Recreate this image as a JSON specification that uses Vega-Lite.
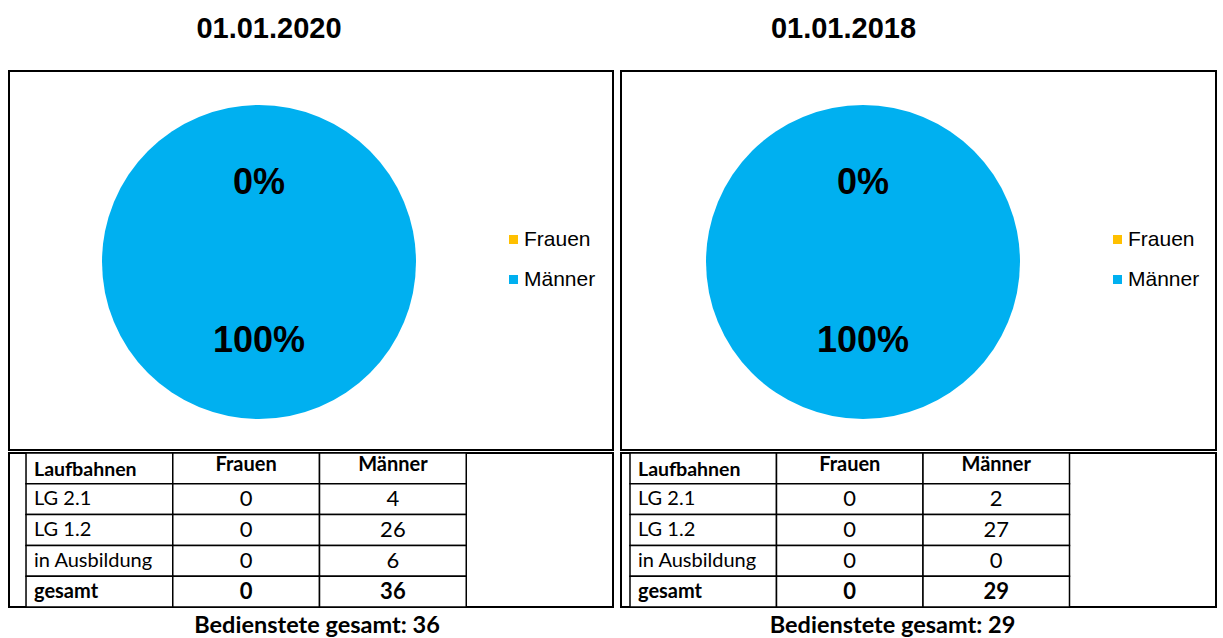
{
  "$schema": "https://vega.github.io/schema/vega-lite/v6.json",
  "background": "white",
  "padding": {"left": 8, "top": 14, "right": 0, "bottom": 0},
  "config": {
    "view": {"stroke": "black", "strokeWidth": 2},
    "text": {"color": "black", "font": "Lato"}
  },
  "datasets": {
    "pie2020": [
      {"Geschlecht": "Frauen", "Anzahl": 0, "Anteil": "0%"},
      {"Geschlecht": "Männer", "Anzahl": 36, "Anteil": "100%"}
    ],
    "pie2018": [
      {"Geschlecht": "Frauen", "Anzahl": 0, "Anteil": "0%"},
      {"Geschlecht": "Männer", "Anzahl": 29, "Anteil": "100%"}
    ],
    "tab2020": [
      {"Laufbahnen": "Laufbahnen", "Frauen": "Frauen", "Männer": "Männer"},
      {"Laufbahnen": "LG 2.1", "Frauen": 0, "Männer": 4},
      {"Laufbahnen": "LG 1.2", "Frauen": 0, "Männer": 26},
      {"Laufbahnen": "in Ausbildung", "Frauen": 0, "Männer": 6},
      {"Laufbahnen": "gesamt", "Frauen": 0, "Männer": 36}
    ],
    "tab2018": [
      {"Laufbahnen": "Laufbahnen", "Frauen": "Frauen", "Männer": "Männer"},
      {"Laufbahnen": "LG 2.1", "Frauen": 0, "Männer": 2},
      {"Laufbahnen": "LG 1.2", "Frauen": 0, "Männer": 27},
      {"Laufbahnen": "in Ausbildung", "Frauen": 0, "Männer": 0},
      {"Laufbahnen": "gesamt", "Frauen": 0, "Männer": 29}
    ]
  },
  "spacing": 6,
  "resolve": {"scale": {"color": "independent", "theta": "independent", "x": "independent", "y": "independent"}, "legend": {"color": "independent"}},
  "hconcat": [
    {
      "spacing": 0,
      "resolve": {"scale": {"color": "independent", "theta": "independent", "x": "independent", "y": "independent"}, "legend": {"color": "independent"}},
      "vconcat": [
        {
          "title": {"text": "01.01.2020", "font": "Liberation Sans", "fontSize": 29, "fontWeight": "bold", "color": "black", "anchor": "middle", "dx": -42, "offset": 27},
          "width": 604,
          "height": 379,
          "view": {"stroke": "black", "strokeWidth": 2},
          "data": {"name": "pie2020"},
          "encoding": {
            "theta": {"field": "Anzahl", "type": "quantitative", "stack": true}
          },
          "layer": [
            {
              "mark": {"type": "arc", "outerRadius": 157, "x": 250, "y": 191},
              "encoding": {
                "color": {
                  "field": "Geschlecht", "type": "nominal",
                  "scale": {"domain": ["Frauen", "Männer"], "range": ["#FFC000", "#00B0F0"]},
                  "legend": {"title": null, "orient": "none", "legendX": 494, "legendY": 158, "symbolType": "square", "symbolSize": 81, "symbolStrokeWidth": 0, "labelFont": "Liberation Sans", "labelFontSize": 21, "labelColor": "black", "rowPadding": 18, "labelOffset": 0}
                }
              }
            },
            {
              "mark": {"type": "text", "radius": 79, "x": 250, "y": 191, "font": "Liberation Sans", "fontSize": 36, "fontWeight": "bold", "color": "black"},
              "encoding": {
                "text": {"field": "Anteil", "type": "nominal"},
                "detail": {"field": "Geschlecht", "type": "nominal"}
              }
            }
          ]
        },
        {
          "width": 604,
          "height": 154,
          "title": {"text": "Bedienstete gesamt: 36", "orient": "bottom", "font": "Lato", "fontSize": 23.5, "fontWeight": "bold", "color": "black", "anchor": "middle", "dx": 6, "offset": 6},
          "data": {"name": "tab2020"},
          "transform": [{"fold": ["Laufbahnen", "Frauen", "Männer"], "as": ["Spalte", "Wert"]}],
          "encoding": {
            "x": {"field": "Spalte", "type": "nominal", "axis": null, "scale": {"domain": ["Laufbahnen", "Frauen", "Männer", "leer"], "paddingInner": 0, "paddingOuter": 0.058, "align": 1}},
            "y": {"field": "Laufbahnen", "type": "nominal", "axis": null, "scale": {"domain": ["Laufbahnen", "LG 2.1", "LG 1.2", "in Ausbildung", "gesamt"], "paddingInner": 0, "paddingOuter": 0}}
          },
          "layer": [
            {"mark": {"type": "rect", "fill": "white", "stroke": "black", "strokeWidth": 1.5}},
            {
              "transform": [{"filter": "datum.Laufbahnen === 'Laufbahnen' && datum.Spalte === 'Laufbahnen'"}],
              "mark": {"type": "text", "align": "left", "dx": 8, "dy": 2, "fontSize": 19.5, "fontWeight": "bold"},
              "encoding": {"x": {"field": "Spalte", "type": "nominal", "bandPosition": 0}, "text": {"field": "Wert", "type": "nominal"}}
            },
            {
              "transform": [{"filter": "datum.Laufbahnen === 'Laufbahnen' && datum.Spalte !== 'Laufbahnen'"}],
              "mark": {"type": "text", "align": "center", "dy": -3, "fontSize": 20, "fontWeight": "bold"},
              "encoding": {"text": {"field": "Wert", "type": "nominal"}}
            },
            {
              "transform": [{"filter": "datum.Laufbahnen !== 'Laufbahnen' && datum.Laufbahnen !== 'gesamt' && datum.Spalte === 'Laufbahnen'"}],
              "mark": {"type": "text", "align": "left", "dx": 8, "fontSize": 20},
              "encoding": {"x": {"field": "Spalte", "type": "nominal", "bandPosition": 0}, "text": {"field": "Wert", "type": "nominal"}}
            },
            {
              "transform": [{"filter": "datum.Laufbahnen === 'gesamt' && datum.Spalte === 'Laufbahnen'"}],
              "mark": {"type": "text", "align": "left", "dx": 8, "fontSize": 20, "fontWeight": "bold"},
              "encoding": {"x": {"field": "Spalte", "type": "nominal", "bandPosition": 0}, "text": {"field": "Wert", "type": "nominal"}}
            },
            {
              "transform": [{"filter": "datum.Laufbahnen !== 'Laufbahnen' && datum.Laufbahnen !== 'gesamt' && datum.Spalte !== 'Laufbahnen'"}],
              "mark": {"type": "text", "align": "center", "fontSize": 22},
              "encoding": {"text": {"field": "Wert", "type": "nominal"}}
            },
            {
              "transform": [{"filter": "datum.Laufbahnen === 'gesamt' && datum.Spalte !== 'Laufbahnen'"}],
              "mark": {"type": "text", "align": "center", "fontSize": 22, "fontWeight": "bold"},
              "encoding": {"text": {"field": "Wert", "type": "nominal"}}
            }
          ]
        }
      ]
    },
    {
      "spacing": 0,
      "resolve": {"scale": {"color": "independent", "theta": "independent", "x": "independent", "y": "independent"}, "legend": {"color": "independent"}},
      "vconcat": [
        {
          "title": {"text": "01.01.2018", "font": "Liberation Sans", "fontSize": 29, "fontWeight": "bold", "color": "black", "anchor": "middle", "dx": -75, "offset": 27},
          "width": 595,
          "height": 379,
          "view": {"stroke": "black", "strokeWidth": 2},
          "data": {"name": "pie2018"},
          "encoding": {
            "theta": {"field": "Anzahl", "type": "quantitative", "stack": true}
          },
          "layer": [
            {
              "mark": {"type": "arc", "outerRadius": 157, "x": 242, "y": 191},
              "encoding": {
                "color": {
                  "field": "Geschlecht", "type": "nominal",
                  "scale": {"domain": ["Frauen", "Männer"], "range": ["#FFC000", "#00B0F0"]},
                  "legend": {"title": null, "orient": "none", "legendX": 486, "legendY": 158, "symbolType": "square", "symbolSize": 81, "symbolStrokeWidth": 0, "labelFont": "Liberation Sans", "labelFontSize": 21, "labelColor": "black", "rowPadding": 18, "labelOffset": 0}
                }
              }
            },
            {
              "mark": {"type": "text", "radius": 79, "x": 242, "y": 191, "font": "Liberation Sans", "fontSize": 36, "fontWeight": "bold", "color": "black"},
              "encoding": {
                "text": {"field": "Anteil", "type": "nominal"},
                "detail": {"field": "Geschlecht", "type": "nominal"}
              }
            }
          ]
        },
        {
          "width": 595,
          "height": 154,
          "title": {"text": "Bedienstete gesamt: 29", "orient": "bottom", "font": "Lato", "fontSize": 23.5, "fontWeight": "bold", "color": "black", "anchor": "middle", "dx": -26, "offset": 6},
          "data": {"name": "tab2018"},
          "transform": [{"fold": ["Laufbahnen", "Frauen", "Männer"], "as": ["Spalte", "Wert"]}],
          "encoding": {
            "x": {"field": "Spalte", "type": "nominal", "axis": null, "scale": {"domain": ["Laufbahnen", "Frauen", "Männer", "leer"], "paddingInner": 0, "paddingOuter": 0.0307, "align": 1}},
            "y": {"field": "Laufbahnen", "type": "nominal", "axis": null, "scale": {"domain": ["Laufbahnen", "LG 2.1", "LG 1.2", "in Ausbildung", "gesamt"], "paddingInner": 0, "paddingOuter": 0}}
          },
          "layer": [
            {"mark": {"type": "rect", "fill": "white", "stroke": "black", "strokeWidth": 1.5}},
            {
              "transform": [{"filter": "datum.Laufbahnen === 'Laufbahnen' && datum.Spalte === 'Laufbahnen'"}],
              "mark": {"type": "text", "align": "left", "dx": 8, "dy": 2, "fontSize": 19.5, "fontWeight": "bold"},
              "encoding": {"x": {"field": "Spalte", "type": "nominal", "bandPosition": 0}, "text": {"field": "Wert", "type": "nominal"}}
            },
            {
              "transform": [{"filter": "datum.Laufbahnen === 'Laufbahnen' && datum.Spalte !== 'Laufbahnen'"}],
              "mark": {"type": "text", "align": "center", "dy": -3, "fontSize": 20, "fontWeight": "bold"},
              "encoding": {"text": {"field": "Wert", "type": "nominal"}}
            },
            {
              "transform": [{"filter": "datum.Laufbahnen !== 'Laufbahnen' && datum.Laufbahnen !== 'gesamt' && datum.Spalte === 'Laufbahnen'"}],
              "mark": {"type": "text", "align": "left", "dx": 8, "fontSize": 20},
              "encoding": {"x": {"field": "Spalte", "type": "nominal", "bandPosition": 0}, "text": {"field": "Wert", "type": "nominal"}}
            },
            {
              "transform": [{"filter": "datum.Laufbahnen === 'gesamt' && datum.Spalte === 'Laufbahnen'"}],
              "mark": {"type": "text", "align": "left", "dx": 8, "fontSize": 20, "fontWeight": "bold"},
              "encoding": {"x": {"field": "Spalte", "type": "nominal", "bandPosition": 0}, "text": {"field": "Wert", "type": "nominal"}}
            },
            {
              "transform": [{"filter": "datum.Laufbahnen !== 'Laufbahnen' && datum.Laufbahnen !== 'gesamt' && datum.Spalte !== 'Laufbahnen'"}],
              "mark": {"type": "text", "align": "center", "fontSize": 22},
              "encoding": {"text": {"field": "Wert", "type": "nominal"}}
            },
            {
              "transform": [{"filter": "datum.Laufbahnen === 'gesamt' && datum.Spalte !== 'Laufbahnen'"}],
              "mark": {"type": "text", "align": "center", "fontSize": 22, "fontWeight": "bold"},
              "encoding": {"text": {"field": "Wert", "type": "nominal"}}
            }
          ]
        }
      ]
    }
  ]
}
